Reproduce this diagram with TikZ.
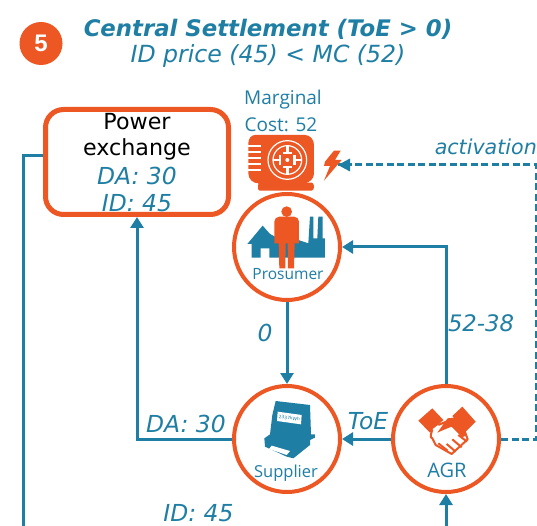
\documentclass[tikz,border=0pt]{standalone}
\usepackage{fontspec}
\setmainfont{DejaVu Sans}
\newfontfamily\arialf{Liberation Sans}
\newfontfamily\opensf{Open Sans}
\usetikzlibrary{arrows.meta}
\definecolor{teal1}{HTML}{1F7EA3}
\definecolor{org}{HTML}{EC5723}
\tikzset{
 x=1pt,y=-1pt,
 conn/.style={draw=teal1,line width=3pt,-{Triangle[length=11pt,width=13pt]}},
 plainline/.style={draw=teal1,line width=3pt},
 dashline/.style={draw=teal1,line width=3pt,dash pattern=on 7pt off 3.5pt},
 actor/.style={circle,draw=org,line width=4pt,fill=white,minimum size=106pt,inner sep=0pt},
 lab/.style={text=teal1,font=\fontsize{23.4}{23.4}\selectfont\itshape,inner sep=0pt},
 smalltxt/.style={text=teal1,font=\opensf\fontsize{19}{19}\selectfont,inner sep=0pt},
 iconT/.style={fill=teal1,draw=none},
 iconO/.style={fill=org,draw=none},
}
\begin{document}
\begin{tikzpicture}
\useasboundingbox (0,0) rectangle (537,526);
\fill[white] (0,0) rectangle (537,526);
% title
\node[circle,fill=org,minimum size=43pt,inner sep=0pt,text=white,font=\arialf\fontsize{24}{24}\selectfont\bfseries] (num) at (41,43.5) {5};
\node[text=teal1,font=\fontsize{22.8}{22.8}\selectfont\bfseries\itshape,inner sep=0pt] (t1) at (268,29) {Central Settlement (ToE > 0)};
\node[text=teal1,font=\fontsize{23.6}{23.6}\selectfont\itshape,inner sep=0pt] (t2) at (268,56) {ID price (45) < MC (52)};
% actors
\node[draw=org,line width=5pt,rounded corners=18pt,minimum width=183pt,minimum height=105pt,fill=white] (px) at (137,162) {};
\node[font=\fontsize{22.2}{22.2}\selectfont,inner sep=0pt] (px1) at (137,122) {Power};
\node[font=\fontsize{22.2}{22.2}\selectfont,inner sep=0pt] (px2) at (137,149) {exchange};
\node[lab] (px3) at (137,176) {DA: 30};
\node[lab] (px4) at (137,203) {ID: 45};
\node[actor] (pro) at (287,247) {};
\node[actor] (sup) at (287,439) {};
\node[actor] (agr) at (446,439) {};
% free ends
\coordinate (pxl) at (23,156);
\coordinate (botL) at (23,526);
\coordinate (botA) at (446,526);
\coordinate (dR) at (536,439);
\coordinate (dT) at (536,165);
\coordinate (bolt) at (338,165);
\coordinate (corner1) at (446,247);
\coordinate (c2) at (137,439);
% connectors
\draw[plainline] (px.west |- pxl) -- (pxl) -- (botL);
\draw[conn] (sup.west) -- (c2) -- (c2 |- px.south);
\draw[conn] (pro.south) -- (sup.north);
\draw[conn] (agr.north) -- (corner1) -- (pro.east);
\draw[conn] (agr.west) -- (sup.east);
\draw[conn] (botA) -- (agr.south);
\draw[dashline] (agr.east) -- (dR) -- (dT) -- (bolt);
\fill[teal1] (338,165) -- (350,158.5) -- (350,171.5) -- cycle;
% labels
\node[smalltxt] (mc1) at (283,100) {Marginal};
\node[smalltxt] (mc2) at (281,125) {Cost: 52};
\node[lab,font=\fontsize{20.6}{20.6}\selectfont\itshape,anchor=east] (la) at (537,147) {activation};
\node[lab] (l0) at (265,333) {0};
\node[lab,font=\fontsize{22.7}{22.7}\selectfont\itshape] (l5) at (481,323) {52-38};
\node[lab] (lda) at (186,424) {DA: 30};
\node[lab] (ltoe) at (368,421) {ToE};
\node[lab] (lid) at (198.5,513) {ID: 45};
\node[smalltxt,font=\opensf\fontsize{15.5}{15.5}\selectfont] (lp) at (288,274) {Prosumer};
\node[smalltxt,font=\opensf\fontsize{16.5}{16.5}\selectfont] (ls) at (286,473) {Supplier};
\node[smalltxt,font=\opensf\fontsize{20}{20}\selectfont] (lg) at (447,470) {AGR};
% generator icon
\begin{scope}[shift={(230,80)},x=0.3333pt,y=-0.3333pt]
\fill[iconO] (75,165) -- (225,165) to[out=0,in=90] (252,195) -- (252,280) to[out=-90,in=0] (225,308) -- (245,308) to[out=0,in=0] (245,332) -- (90,332) to[out=180,in=-90] (85,310) to[out=180,in=-90] (55,280) -- (55,190) to[out=90,in=180] (75,165) -- cycle;
\foreach \yy in {195,213,231,249,267} \fill[white] (55,\yy) rectangle (92,\yy+7);
\draw[white,line width=1.2pt] (172,240) circle (58);
\draw[white,line width=1.2pt] (172,240) circle (43);
\fill[white] (172,240) circle (6);
\foreach \a in {0,90,180,270} {\fill[white,rotate around={\a:(172,240)}] (168,198) rectangle (176,222);
 \fill[white,rotate around={\a:(172,240)}] (158,215) rectangle (186,222);}
\fill[iconO] (285,245) -- (312,212) -- (332,212) -- (315,240) -- (335,240) -- (282,302) -- (300,258) -- (282,258) -- cycle;
% prosumer
\fill[iconT] (52,492) -- (98,437) -- (120,462) -- (135,470) -- (205,480) -- (235,490) -- (240,410) -- (250,410) -- (250,475) -- (262,475) -- (265,410) -- (278,410) -- (278,475) -- (285,475) -- (285,533) -- (118,533) -- (118,505) -- (92,505) -- (92,533) -- (65,533) -- (65,492) -- cycle;
\fill[iconO] (170,395) circle (16);
\fill[iconO] (148,410) -- (192,410) to[out=0,in=90] (207,425) -- (207,490) -- (194,490) -- (192,565) -- (174,565) -- (173,490) -- (167,490) -- (166,565) -- (148,565) -- (146,490) -- (133,490) -- (133,425) to[out=90,in=180] (148,410) -- cycle;
\end{scope}
% meter
\begin{scope}[shift={(255,395)},x=0.3333pt,y=-0.3333pt]
\fill[iconT] (62,18) -- (165,30) -- (168,118) -- (180,118) -- (180,128) -- (165,135) -- (165,150) -- (115,190) -- (95,185) -- (30,155) -- (28,130) -- (45,118) -- (52,60) -- cycle;
\fill[white] (68,50) -- (140,60) -- (138,88) -- (66,78) -- cycle;
\node[rotate=-7,text=teal1,font=\fontsize{4.5}{4.5}\selectfont,inner sep=0pt] (mtxt) at (103,69) {2337kWh};
\fill[white] (50,152) -- (105,168) -- (95,180) -- (42,162) -- cycle;
\end{scope}
% handshake
\begin{scope}[shift={(225,380)},x=0.3333pt,y=-0.3333pt]
\fill[iconO] (580,122) -- (622,85) -- (655,120) -- (615,158) -- cycle;
\fill[iconO] (682,108) -- (712,80) -- (752,125) -- (722,155) -- cycle;
\draw[org,fill=white,line width=2pt,line join=round] (622,148) to[out=-100,in=170] (622,175) -- (632,195) -- (680,222) -- (728,178) -- (718,150) -- (675,120) -- (640,135);
\fill[org] (637,158) -- (668,115) -- (695,112) -- (725,165) -- (712,172) -- (680,140) -- (655,150) -- cycle;
\draw[org,line width=2pt] (640,190) -- (668,212);
\draw[org,line width=2pt] (665,192) -- (692,215);
\draw[org,line width=2pt] (682,178) -- (710,202);
\draw[org,line width=2pt] (700,165) -- (726,185);
\end{scope}
\end{tikzpicture}
\end{document}
